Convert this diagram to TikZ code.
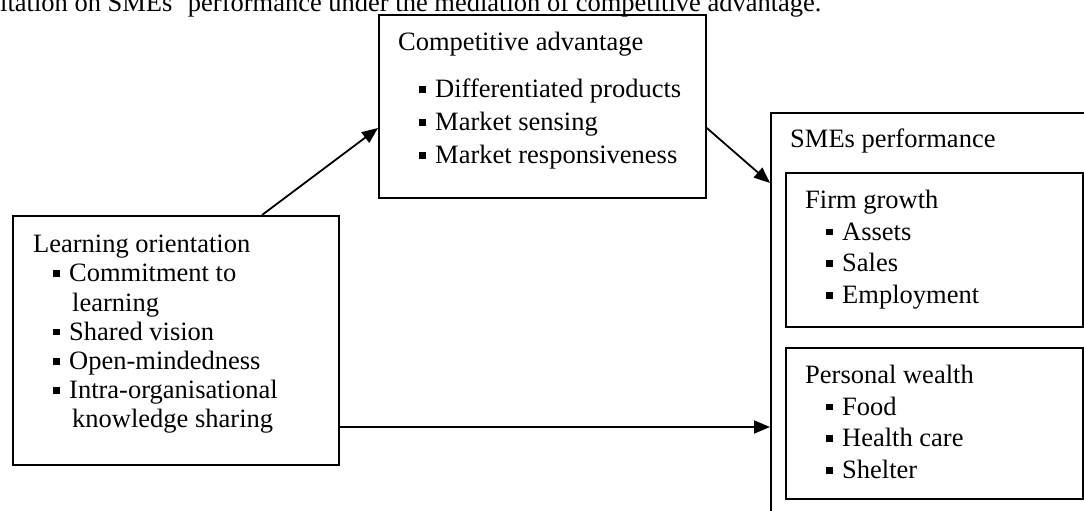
\documentclass[tikz,border=0pt]{standalone}
\usepackage{fontspec}
\setmainfont{Liberation Serif}
\usetikzlibrary{arrows.meta}
\usetikzlibrary{positioning}

\newcommand{\sqbul}{\makebox[16pt][l]{\rule[5pt]{6.5pt}{6.5pt}}}

\tikzset{
  box/.style={draw, line width=1.8pt, anchor=north west, inner sep=0pt},
  lbl/.style={anchor=north west, inner sep=0pt, align=left},
  link/.style={line width=1.8pt, -{Triangle[length=16pt,width=13pt]}},
}

\begin{document}
\begin{tikzpicture}[x=1pt,y=-1pt,font=\fontsize{26.5}{33}\selectfont]
    \useasboundingbox (0,0) rectangle (1084,511);
    \clip (0,0) rectangle (1084,511);
    % caption line, cut off by the page
    \node[anchor=base west, inner sep=0pt] (cap) at (0,12)
      {itation on SMEs’ performance under the mediation of competitive advantage.};
    % boxes
    \node[box, minimum width=327pt, minimum height=183pt] (ca) at (378,14) {};
    \node[box, minimum width=326pt, minimum height=249pt] (lo) at (12,215) {};
    \node[box, minimum width=340pt, minimum height=420pt] (sme) at (770,112) {};
    \node[box, minimum width=297pt, minimum height=154pt] (fg) at (785,172) {};
    \node[box, minimum width=297pt, minimum height=151pt] (pw) at (785,347) {};
    % texts
    \node[lbl] (ca-t) at (398,32) {Competitive advantage};
    \node[lbl] (ca-l) at (419,79)
      {\sqbul Differentiated products\\ \sqbul Market sensing\\ \sqbul Market responsiveness};
    \node[lbl, font=\fontsize{26.5}{29.2}\selectfont] (lo-l) at (33,235)
      {Learning orientation\\
       \hspace*{20pt}\sqbul Commitment to\\
       \hspace*{39pt}learning\\
       \hspace*{20pt}\sqbul Shared vision\\
       \hspace*{20pt}\sqbul Open-mindedness\\
       \hspace*{20pt}\sqbul Intra-organisational\\
       \hspace*{39pt}knowledge sharing};
    \node[lbl] (sme-t) at (790,129) {SMEs performance};
    \node[lbl, font=\fontsize{26.5}{31.7}\selectfont] (fg-l) at (805,190)
      {Firm growth\\
       \hspace*{21pt}\sqbul Assets\\
       \hspace*{21pt}\sqbul Sales\\
       \hspace*{21pt}\sqbul Employment};
    \node[lbl, font=\fontsize{26.5}{31.7}\selectfont] (pw-l) at (805,365)
      {Personal wealth\\
       \hspace*{21pt}\sqbul Food\\
       \hspace*{21pt}\sqbul Health care\\
       \hspace*{21pt}\sqbul Shelter};
    % links
    \draw[link] ([xshift=250pt]lo.north west) -- ([yshift=-114pt]ca.north west);
    \draw[link] ([yshift=-114pt]ca.north east) -- ([yshift=-71pt]sme.north west);
    \draw[link] ([yshift=-212pt]lo.north east) coordinate (lo-out) -- (lo-out -| sme.west);
\end{tikzpicture}
\end{document}
